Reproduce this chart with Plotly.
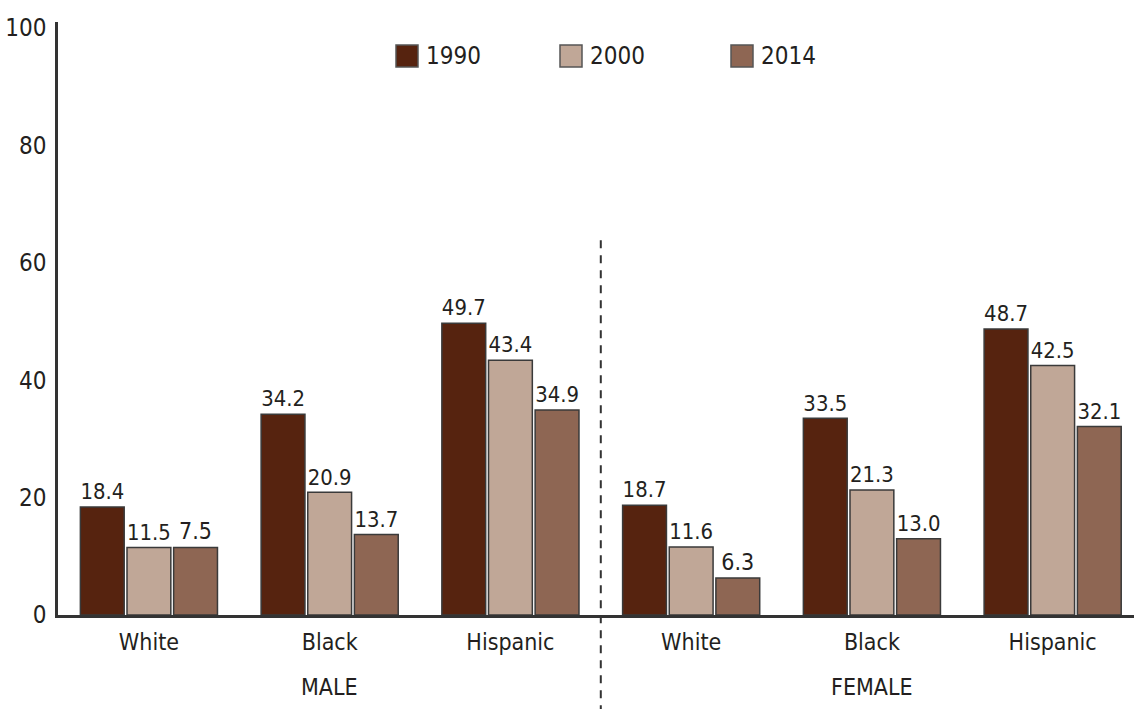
import plotly.graph_objects as go

groups = ["White", "Black", "Hispanic", "White", "Black", "Hispanic"]
sections = ["MALE", "FEMALE"]
years = ["1990", "2000", "2014"]
# bar heights as drawn in the reference (the male White 2014 bar is drawn at the 2000 height)
h1990 = [18.4, 34.2, 49.7, 18.7, 33.5, 48.7]
h2000 = [11.5, 20.9, 43.4, 11.6, 21.3, 42.5]
h2014 = [11.5, 13.7, 34.9, 6.3, 13.0, 32.1]
# printed value labels
l1990 = ["18.4", "34.2", "49.7", "18.7", "33.5", "48.7"]
l2000 = ["11.5", "20.9", "43.4", "11.6", "21.3", "42.5"]
l2014 = ["7.5", "13.7", "34.9", "6.3", "13.0", "32.1"]
colors = ["#56230f", "#c0a797", "#8e6653"]
yticks = [0, 20, 40, 60, 80, 100]

FONT = "DejaVu Sans Condensed, Liberation Sans Narrow, sans-serif"
TXT = "#231f20"

xs = list(range(len(groups)))
fig = go.Figure()
for name, h, lab, c in zip(years, [h1990, h2000, h2014], [l1990, l2000, l2014], colors):
    fig.add_trace(go.Bar(
        x=xs, y=h, name=name, text=lab, textposition="outside",
        textfont=dict(family=FONT, size=23, color=TXT),
        cliponaxis=False,
        marker=dict(color=c, line=dict(color="#3a3a3a", width=1.5)),
        showlegend=False,
    ))

fig.update_layout(
    width=1134, height=709,
    margin=dict(l=58, r=0, t=22, b=94),
    paper_bgcolor="white", plot_bgcolor="white",
    barmode="group", bargap=0.226, bargroupgap=0.06,
    font=dict(family=FONT, size=23, color=TXT),
)
fig.update_xaxes(
    range=[-0.503, 5.45], tickvals=xs, ticktext=groups,
    showline=True, linecolor="#333333", linewidth=2.5,
    showgrid=False, zeroline=False, ticks="", ticklabelstandoff=5,
    tickfont=dict(family=FONT, size=23, color=TXT),
)
fig.update_yaxes(
    range=[0, 101], tickvals=yticks, ticktext=[str(v) for v in yticks],
    showline=True, linecolor="#333333", linewidth=2.5,
    showgrid=False, zeroline=False, ticks="", ticklabelstandoff=4,
    tickfont=dict(family=FONT, size=24, color=TXT),
)

# dashed separator between MALE and FEMALE
fig.add_shape(type="line", xref="x", yref="paper", x0=2.5, x1=2.5, y0=0.632, y1=-0.16,
              line=dict(color="#333333", width=2, dash="8px,7px"))

# section labels
for i, s in enumerate(sections):
    fig.add_annotation(x=1 + 3 * i, y=-0.1214, xref="x", yref="paper", text=s,
                       showarrow=False, yanchor="middle",
                       font=dict(family=FONT, size=23, color=TXT))

# legend drawn as squares + text
leg_x = [396, 560, 731]
for name, c, lx in zip(years, colors, leg_x):
    x0 = (lx - 58) / 1076
    x1 = (lx + 22 - 58) / 1076
    fig.add_shape(type="rect", xref="paper", yref="paper",
                  x0=x0, x1=x1, y0=(615 - 67) / 593, y1=(615 - 45) / 593,
                  fillcolor=c, line=dict(color="#555555", width=1.5))
    fig.add_annotation(x=(lx + 28 - 58) / 1076, y=(615 - 56) / 593, xref="paper", yref="paper",
                       text=name, showarrow=False, xanchor="left", yanchor="middle",
                       font=dict(family=FONT, size=24, color=TXT))

fig.write_html("out.html")
